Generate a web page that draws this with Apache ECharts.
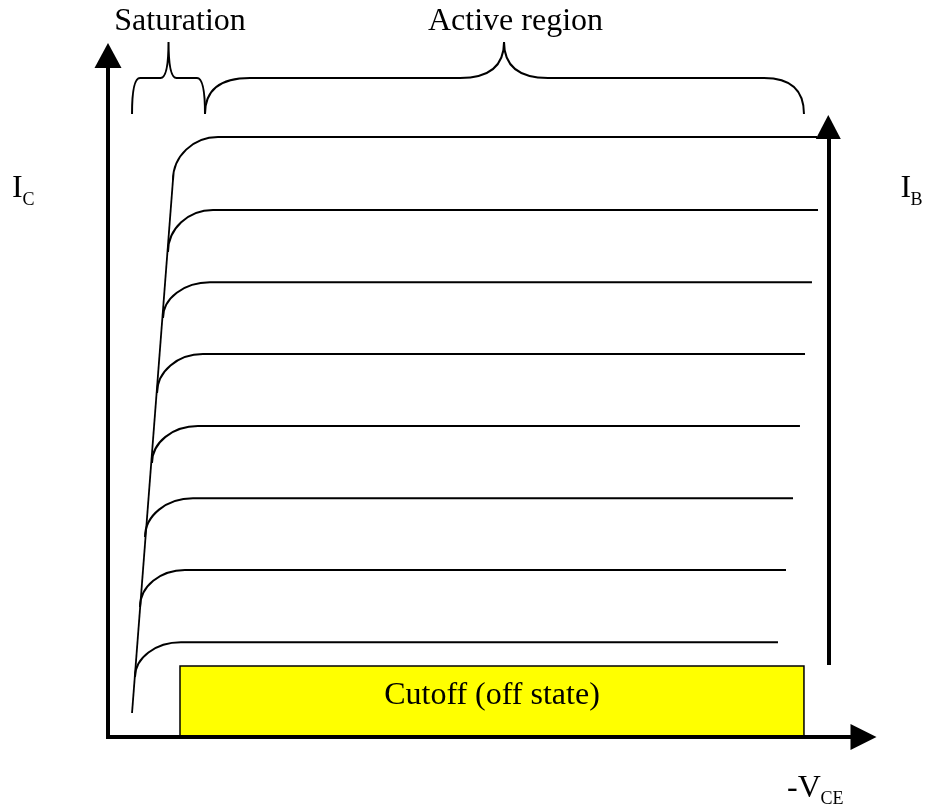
<!DOCTYPE html>
<html>
<head>
<meta charset="utf-8">
<title>Transistor output characteristics</title>
<script src="https://cdn.jsdelivr.net/npm/echarts@6/dist/echarts.min.js"></script>
<style>
  html, body { margin: 0; padding: 0; background: #fff; }
  #chart { width: 927px; height: 811px; }
</style>
</head>
<body>
<div id="chart"></div>
<script>
(function () {
  'use strict';

  // -V_CE on x, I_C on y, both in arbitrary units 0..100
  // one I_C curve per base current step:
  // knee start (on the saturation line), knee end, flat level, end of the flat part
  const kneeStartX = [8.60, 7.94, 7.28, 6.49, 5.82, 4.90, 4.24, 3.57];
  const kneeStartY = [81.73, 71.17, 61.48, 50.48, 40.21, 29.35, 19.08, 8.80];
  const kneeEndX = [14.56, 13.90, 13.50, 12.57, 11.91, 11.25, 10.19, 9.66];
  const levelIC = [88.04, 77.33, 66.72, 56.20, 45.63, 35.03, 24.50, 13.90];
  const curveEndX = [93.85, 93.98, 93.18, 92.26, 91.59, 90.67, 89.74, 88.68];

  const saturationLine = [[3.18, 3.52], [8.60, 81.73]];
  const cutoffBox = [[9.53, 0], [92.12, 10.42]];
  const ibArrow = [[95.34, 10.56], [95.34, 89.51]];

  // braces: left tip x, right tip x, cusp x, tip y, bar y, cusp y, left hook, right hook, cusp hook
  const saturationBrace = [3.18, 12.84, 8.01, 91.42, 96.70, 101.98, 1.06, 1.06, 1.06];
  const activeBrace = [12.84, 92.12, 52.42, 91.42, 96.70, 101.98, 5.96, 5.29, 5.82];

  const serif = '"Liberation Serif", "Times New Roman", serif';
  const K = 0.5523; // quarter-ellipse bezier handle

  function pt(q) { return q[0].toFixed(2) + ' ' + q[1].toFixed(2); }

  function renderCurve(params, api) {
    const x0 = api.value(0), y0 = api.value(1);
    const xe = api.value(2), lv = api.value(3), xEnd = api.value(4);
    const d = 'M' + pt(api.coord([x0, y0])) +
      ' C' + pt(api.coord([x0, y0 + K * (lv - y0)])) +
      ' ' + pt(api.coord([xe - K * (xe - x0), lv])) +
      ' ' + pt(api.coord([xe, lv])) +
      ' L' + pt(api.coord([xEnd, lv]));
    return {
      type: 'path',
      shape: { pathData: d },
      style: { fill: 'none', stroke: '#000', lineWidth: 2 }
    };
  }

  function renderBrace(params, api) {
    const p = function (x, y) { return pt(api.coord([x, y])); };
    const xa = api.value(0), xb = api.value(1), xm = api.value(2);
    const yt = api.value(3), yb = api.value(4), yc = api.value(5);
    const rl = api.value(6), rr = api.value(7), rm = api.value(8);
    const d = 'M' + p(xa, yt) +
      ' Q' + p(xa, yb) + ' ' + p(xa + rl, yb) +
      ' L' + p(xm - rm, yb) +
      ' Q' + p(xm, yb) + ' ' + p(xm, yc) +
      ' Q' + p(xm, yb) + ' ' + p(xm + rm, yb) +
      ' L' + p(xb - rr, yb) +
      ' Q' + p(xb, yb) + ' ' + p(xb, yt);
    return {
      type: 'path',
      shape: { pathData: d },
      style: { fill: 'none', stroke: '#000', lineWidth: 2 }
    };
  }

  function label(x, y, text, size, align) {
    return {
      type: 'text', x: x, y: y, silent: true,
      style: {
        text: text, fill: '#000',
        font: size + 'px ' + serif,
        align: align, verticalAlign: 'middle',
        textAlign: align, textVerticalAlign: 'middle'
      }
    };
  }

  const curveRows = levelIC.map(function (lv, i) {
    return [kneeStartX[i], kneeStartY[i], kneeEndX[i], lv, curveEndX[i]];
  });

  const series = [
    {
      type: 'custom', silent: true,
      encode: { x: [0, 2, 4], y: [1, 3] },
      renderItem: renderCurve,
      data: curveRows
    },
    {
      type: 'line', data: saturationLine, symbol: 'none', silent: true,
      lineStyle: { color: '#000', width: 1.8 },
      markArea: {
        silent: true,
        itemStyle: { color: '#ffff00', borderColor: '#000', borderWidth: 1.5 },
        label: {
          show: true, position: 'inside', color: '#000',
          fontFamily: serif, fontSize: 32, offset: [0, -6]
        },
        data: [[
          { name: 'Cutoff (off state)', coord: cutoffBox[0] },
          { coord: cutoffBox[1] }
        ]]
      },
      markLine: {
        silent: true,
        symbol: ['none', 'triangle'],
        symbolSize: [25, 24],
        label: { show: false },
        lineStyle: { color: '#000', width: 4, type: 'solid' },
        data: [[{ coord: ibArrow[0] }, { coord: ibArrow[1] }]]
      }
    },
    {
      type: 'custom', silent: true, clip: false,
      encode: { x: [0, 1, 2], y: [3, 4, 5] },
      renderItem: renderBrace,
      data: [saturationBrace, activeBrace]
    }
  ];

  const axisCommon = {
    type: 'value', min: 0, max: 100, z: 10,
    splitLine: { show: false },
    axisTick: { show: false },
    axisLabel: { show: false },
    axisLine: {
      show: true, onZero: false,
      lineStyle: { color: '#000', width: 4, cap: 'square' }
    }
  };

  const chart = echarts.init(document.getElementById('chart'), null, { renderer: 'canvas' });
  chart.setOption({
    animation: false,
    backgroundColor: '#fff',
    grid: { left: 108, right: 63.5, top: 55.5, bottom: 74 },
    xAxis: Object.assign({}, axisCommon, {
      axisLine: Object.assign({}, axisCommon.axisLine, { symbol: ['none', 'triangle'], symbolSize: [26, 26] })
    }),
    yAxis: Object.assign({}, axisCommon, {
      axisLine: Object.assign({}, axisCommon.axisLine, { symbol: ['none', 'triangle'], symbolSize: [27, 25] })
    }),
    graphic: [
      label(180, 21.5, 'Saturation', 32, 'center'),
      label(515.5, 21.5, 'Active region', 32, 'center'),
      label(12, 189, 'I', 32, 'left'),
      label(22.5, 200, 'C', 18, 'left'),
      label(900.5, 189, 'I', 32, 'left'),
      label(910.5, 200, 'B', 18, 'left'),
      label(787, 789, '-V', 32, 'left'),
      label(820.5, 799, 'CE', 18, 'left')
    ],
    series: series
  });
  window.addEventListener('resize', function () { chart.resize(); });
})();
</script>
</body>
</html>
